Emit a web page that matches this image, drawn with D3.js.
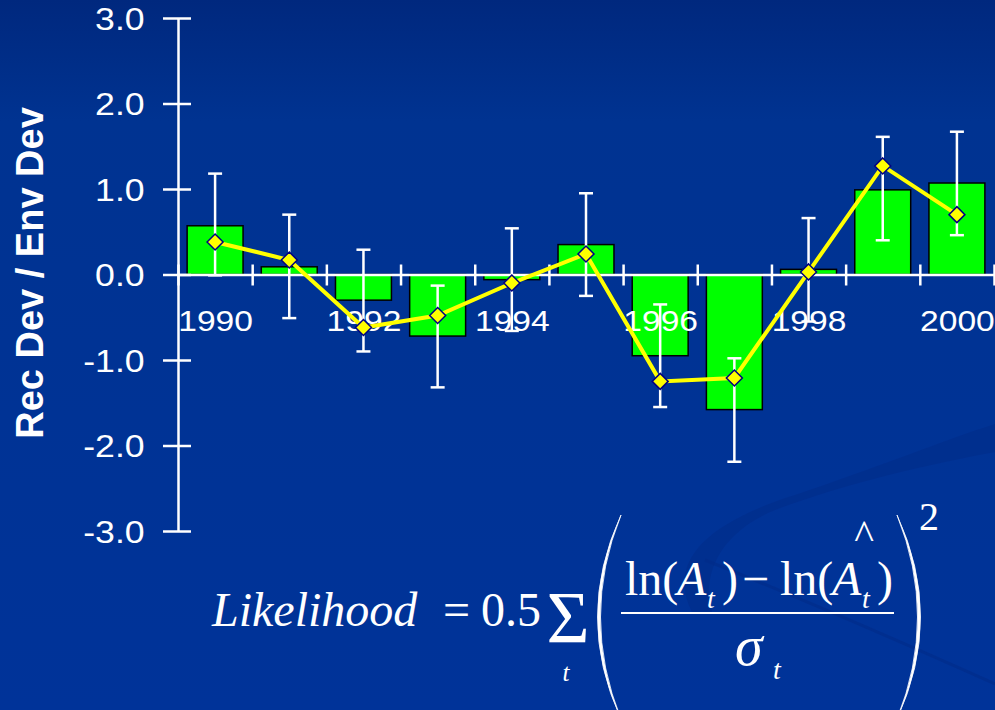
<!DOCTYPE html>
<html>
<head>
<meta charset="utf-8">
<script src="https://cdn.jsdelivr.net/npm/d3@7"></script>
<style>
  body { margin: 0; overflow: hidden; background: #003399; }
  svg { display: block; }
</style>
</head>
<body>
<script>
var width = 995;
var height = 710;

// values
var years = [1990, 1991, 1992, 1993, 1994, 1995, 1996, 1997, 1998, 1999, 2000];
var recDev = [0.57, 0.09, -0.30, -0.72, -0.06, 0.35, -0.95, -1.58, 0.06, 0.99, 1.07];
var envDev = [0.38, 0.17, -0.62, -0.48, -0.10, 0.24, -1.25, -1.21, 0.03, 1.27, 0.70];
var errHigh = [1.18, 0.70, 0.29, -0.13, 0.54, 0.95, -0.35, -0.98, 0.66, 1.61, 1.67];
var errLow = [-0.01, -0.51, -0.90, -1.32, -0.66, -0.25, -1.55, -2.19, -0.55, 0.40, 0.46];
var yTicks = [-3, -2, -1, 0, 1, 2, 3];
var xLabels = [1990, 1992, 1994, 1996, 1998, 2000];
var xTicks = [1989.5, 1990.5, 1991.5, 1992.5, 1993.5, 1994.5, 1995.5, 1996.5, 1997.5, 1998.5, 1999.5, 2000.5];

var svg = d3.select("body")
  .append("svg")
  .attr("width", width)
  .attr("height", height);

// background
var defs = svg.append("defs");
var grad = defs.append("linearGradient")
  .attr("id", "bg")
  .attr("x1", 0).attr("y1", 0).attr("x2", 0).attr("y2", 1);
grad.append("stop").attr("offset", "0%").attr("stop-color", "#00287e");
grad.append("stop").attr("offset", "17%").attr("stop-color", "#003391");
grad.append("stop").attr("offset", "100%").attr("stop-color", "#003399");

svg.append("rect")
  .attr("width", width)
  .attr("height", height)
  .attr("fill", "url(#bg)");

// faint swoosh in the lower right
svg.append("path")
  .attr("d", "M692,612 C668,565 700,525 795,495 C870,470 945,440 995,424 L995,452 C930,464 850,482 775,510 C725,530 700,570 712,612 Z")
  .attr("fill", "#002b88")
  .attr("opacity", 0.55);
svg.append("path")
  .attr("d", "M705,560 Q830,610 995,684")
  .attr("fill", "none")
  .attr("stroke", "#002b88")
  .attr("stroke-width", 3)
  .attr("opacity", 0.6);

var x = d3.scaleLinear()
  .domain([1989.5, 2000.5])
  .range([178, 994]);

var y = d3.scaleLinear()
  .domain([-3, 3])
  .range([531, 18]);

var halfBar = 0.377;

// bars
svg.append("g")
  .selectAll("rect")
  .data(years)
  .enter()
  .append("rect")
    .attr("x", function(d) { return x(d - halfBar); })
    .attr("width", function(d) { return x(d + halfBar) - x(d - halfBar); })
    .attr("y", function(d, i) { return y(Math.max(0, recDev[i])); })
    .attr("height", function(d, i) { return Math.abs(y(recDev[i]) - y(0)); })
    .attr("fill", "#00ff00")
    .attr("stroke", "#000000")
    .attr("stroke-width", 1.5);

// y axis
var yAxis = svg.append("g")
  .attr("transform", "translate(" + x(1989.5) + ",0)")
  .call(d3.axisLeft(y)
    .tickValues(yTicks)
    .tickSizeInner(15)
    .tickSizeOuter(0)
    .tickFormat(function(d) { return d.toFixed(1); }));

yAxis.select(".domain").attr("stroke", "#ffffff").attr("stroke-width", 2.5);
yAxis.selectAll(".tick line")
  .attr("stroke", "#ffffff")
  .attr("stroke-width", 2.5)
  .attr("x1", 13)
  .attr("x2", -15);
yAxis.selectAll(".tick text")
  .attr("fill", "#ffffff")
  .attr("font-family", "Liberation Sans, Arial, sans-serif")
  .attr("font-size", "31px")
  .attr("x", -29)
  .attr("dy", "0.36em")
  .attr("transform", "scale(1.15,1)");

// x axis (ticks between years)
var xAxis = svg.append("g")
  .attr("transform", "translate(0," + y(0) + ")")
  .call(d3.axisBottom(x)
    .tickValues(xTicks)
    .tickSizeInner(11)
    .tickSizeOuter(0)
    .tickFormat(""));

xAxis.select(".domain").attr("stroke", "#ffffff").attr("stroke-width", 2.5);
xAxis.selectAll(".tick line")
  .attr("stroke", "#ffffff")
  .attr("stroke-width", 2.5)
  .attr("y1", -10)
  .attr("y2", 11);

// year labels
var xLab = svg.append("g")
  .attr("transform", "translate(0," + y(0) + ")")
  .call(d3.axisBottom(x)
    .tickValues(xLabels)
    .tickSize(0)
    .tickFormat(function(d) { return String(d); }));

xLab.select(".domain").remove();
xLab.selectAll(".tick text")
  .attr("fill", "#ffffff")
  .attr("font-family", "Liberation Sans, Arial, sans-serif")
  .attr("font-size", "30px")
  .attr("y", 57)
  .attr("dy", 0)
  .attr("transform", "scale(1.12,1)");

// y title
svg.append("text")
  .attr("transform", "translate(43,273) rotate(-90)")
  .attr("text-anchor", "middle")
  .attr("fill", "#ffffff")
  .attr("font-family", "Liberation Sans, Arial, sans-serif")
  .attr("font-weight", "bold")
  .attr("font-size", "38px")
  .text("Rec Dev / Env Dev");

// error bars
var err = svg.append("g")
  .attr("stroke", "#ffffff")
  .attr("stroke-width", 2.5);

err.selectAll("line.v")
  .data(years)
  .enter()
  .append("line")
    .attr("class", "v")
    .attr("x1", function(d) { return x(d); })
    .attr("x2", function(d) { return x(d); })
    .attr("y1", function(d, i) { return y(errHigh[i]); })
    .attr("y2", function(d, i) { return y(errLow[i]); });

[errHigh, errLow].forEach(function(arr) {
  err.append("g")
    .selectAll("line")
    .data(years)
    .enter()
    .append("line")
      .attr("x1", function(d) { return x(d) - 7; })
      .attr("x2", function(d) { return x(d) + 7; })
      .attr("y1", function(d, i) { return y(arr[i]); })
      .attr("y2", function(d, i) { return y(arr[i]); });
});

// line
var line = d3.line()
  .x(function(d) { return x(d); })
  .y(function(d, i) { return y(envDev[i]); });

svg.append("path")
  .datum(years)
  .attr("d", line)
  .attr("fill", "none")
  .attr("stroke", "#ffff00")
  .attr("stroke-width", 4);

svg.append("g")
  .selectAll("path")
  .data(years)
  .enter()
  .append("path")
    .attr("d", "M0,-8L8,0L0,8L-8,0Z")
    .attr("transform", function(d, i) { return "translate(" + x(d) + "," + y(envDev[i]) + ")"; })
    .attr("fill", "#ffff00")
    .attr("stroke", "#000080")
    .attr("stroke-width", 1.5);

// likelihood formula
var f = svg.append("g")
  .attr("fill", "#ffffff")
  .attr("font-family", "Liberation Serif, Times New Roman, serif");

function put(txt, px, py, size, italic, anchor) {
  f.append("text")
    .attr("x", px)
    .attr("y", py)
    .attr("font-size", size + "px")
    .attr("font-style", italic ? "italic" : "normal")
    .attr("text-anchor", anchor || "start")
    .text(txt);
}

put("Likelihood", 212, 626, 48, true);
put("=", 443, 626, 48, false);
put("0.5", 481, 626, 48, false);
put("Σ", 568, 643, 74, false, "middle");
put("t", 566, 681, 25, true, "middle");

put("ln(", 625, 595, 48, false);
put("A", 677, 595, 48, true);
put("t", 707, 608, 28, true);
put(")", 722, 595, 48, false);
put("−", 742, 595, 48, false);
put("ln(", 780, 595, 48, false);
put("A", 832, 595, 48, true);
put("t", 862, 608, 28, true);
put(")", 877, 595, 48, false);
put("^", 864, 549, 42, false, "middle");

put("σ", 735, 665, 56, true);
put("t", 773, 679, 28, true);
put("2", 919, 530, 40, false);

svg.append("line")
  .attr("x1", 621).attr("x2", 894)
  .attr("y1", 613).attr("y2", 613)
  .attr("stroke", "#ffffff")
  .attr("stroke-width", 2);

// big brackets
svg.append("path")
  .attr("d", "M621,515 Q574,617 621,719 Q580,617 621,515 Z")
  .attr("fill", "#ffffff")
  .attr("stroke", "#ffffff")
  .attr("stroke-width", 0.8);
svg.append("path")
  .attr("d", "M897,515 Q944,617 897,719 Q938,617 897,515 Z")
  .attr("fill", "#ffffff")
  .attr("stroke", "#ffffff")
  .attr("stroke-width", 0.8);
</script>
</body>
</html>
